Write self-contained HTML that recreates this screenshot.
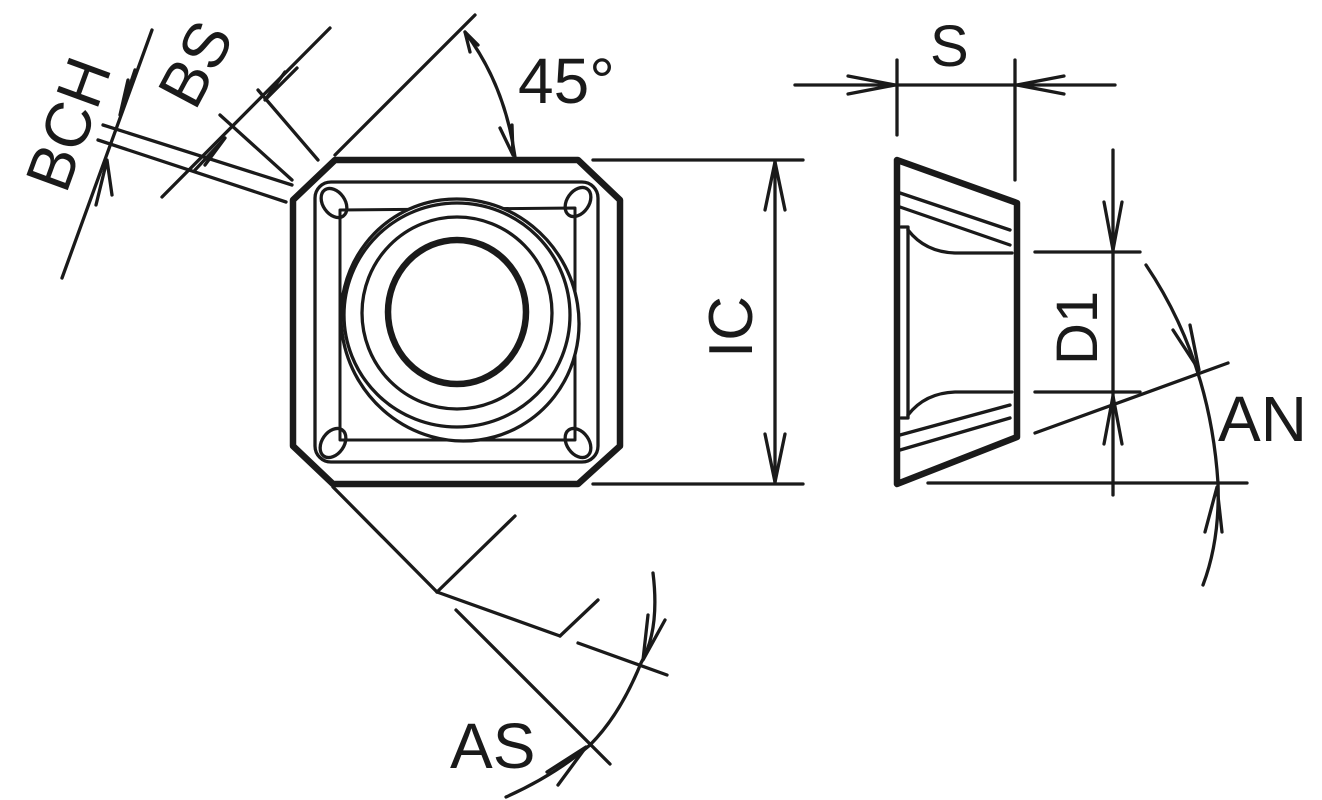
<!DOCTYPE html>
<html><head><meta charset="utf-8"><style>
html,body{margin:0;padding:0;background:#fff;}
svg{display:block;}
text{font-family:"Liberation Sans",sans-serif;fill:#1a1a1a;}
</style></head><body>
<svg width="1322" height="800" viewBox="0 0 1322 800" xmlns="http://www.w3.org/2000/svg">
<g fill="none" stroke="#1a1a1a" stroke-width="3.3" stroke-linecap="round" stroke-linejoin="round">
<!-- main square -->
<path d="M335,160 L578,160 L620,200 L620,446 L578,484 L333,484 L293,446 L293,200 Z" stroke-width="6.5"/>
<rect x="315" y="182" width="283" height="280" rx="16"/>
<path d="M340,210 L575,208 L575,440 L340,440 Z" stroke-width="3"/>
<ellipse cx="334" cy="203" rx="11" ry="16" transform="rotate(-35 334 203)"/>
<ellipse cx="578" cy="202" rx="11" ry="16" transform="rotate(35 578 202)"/>
<ellipse cx="333" cy="443" rx="11" ry="16" transform="rotate(35 333 443)"/>
<ellipse cx="578" cy="443" rx="11" ry="16" transform="rotate(-35 578 443)"/>
<ellipse cx="460" cy="320" rx="118" ry="122" transform="rotate(-30 460 320)" fill="#fff"/>
<ellipse cx="457" cy="315" rx="113" ry="112" fill="#fff"/>
<ellipse cx="457" cy="313" rx="95" ry="96"/>
<ellipse cx="457" cy="312" rx="69" ry="72" stroke-width="6.5"/>
<!-- 45 -->
<line x1="335" y1="155" x2="475" y2="15"/>
<path d="M465,32 Q505,85 515,157"/>
<path d="M478,45 L465,32 L470,52 M500,128 L513,155 L512,125"/>
<!-- BCH/BS -->
<line x1="103" y1="125" x2="292" y2="185"/>
<line x1="98" y1="140" x2="286" y2="202"/>
<line x1="152" y1="30" x2="62" y2="278"/>
<path d="M135,70 L120,115 L128,80 M96,205 L107,160 L112,195"/>
<line x1="220" y1="115" x2="292" y2="180"/>
<line x1="258" y1="90" x2="318" y2="160"/>
<line x1="330" y1="28" x2="162" y2="197"/>
<path d="M297,68 L265,100 L285,72 M195,170 L225,138 L205,165"/>
<!-- IC -->
<line x1="593" y1="160" x2="803" y2="160"/>
<line x1="593" y1="484" x2="803" y2="484"/>
<line x1="775" y1="162" x2="775" y2="482"/>
<path d="M765,210 L775,162 L785,210 M765,434 L775,482 L785,434"/>
<!-- S -->
<line x1="795" y1="85" x2="1115" y2="85"/>
<line x1="897" y1="60" x2="897" y2="135"/>
<line x1="1015" y1="60" x2="1015" y2="180"/>
<path d="M848,76 L895,85 L848,94 M1064,76 L1017,85 L1064,94"/>
<!-- side view -->
<path d="M897,160 L1017,203 L1017,437 L897,484 Z" stroke-width="6.5"/>
<line x1="900" y1="193" x2="1010" y2="230"/>
<line x1="900" y1="207" x2="1010" y2="245"/>
<line x1="900" y1="435" x2="1010" y2="405"/>
<line x1="900" y1="450" x2="1010" y2="418"/>
<path d="M901,227 L908,227 L908,418 L901,418"/>
<path d="M908,230 Q925,252 955,253 L1012,253"/>
<path d="M908,415 Q925,393 955,392 L1012,392"/>
<!-- D1 / AN -->
<line x1="1113" y1="150" x2="1113" y2="495"/>
<line x1="1035" y1="252" x2="1140" y2="252"/>
<line x1="1035" y1="392" x2="1140" y2="392"/>
<line x1="928" y1="483" x2="1247" y2="483"/>
<line x1="1035" y1="433" x2="1228" y2="363"/>
<path d="M1104,202 L1113,250 L1122,202 M1104,444 L1113,396 L1122,444"/>
<path d="M1146,265 Q1210,360 1218,483 Q1220,540 1203,585"/>
<path d="M1173,330 L1199,370 L1190,325 M1205,532 L1217,487 L1222,532"/>
<!-- AS -->
<line x1="333" y1="487" x2="437" y2="592"/>
<line x1="437" y1="592" x2="515" y2="516"/>
<line x1="437" y1="592" x2="560" y2="636"/>
<line x1="560" y1="636" x2="598" y2="600"/>
<line x1="456" y1="610" x2="610" y2="764"/>
<line x1="578" y1="643" x2="667" y2="675"/>
<path d="M653,573 Q660,630 641,663 Q620,715 590,745 Q555,775 506,797"/>
<path d="M648,615 L643,660 L665,620 M547,772 L586,747 L558,785"/>
</g>
<text x="450" y="768" font-size="64">AS</text>
<text x="518" y="103" font-size="64">45°</text>
<text x="930" y="66" font-size="58">S</text>
<text x="1218" y="441" font-size="64">AN</text>
<text transform="translate(752,358) rotate(-90)" font-size="62">IC</text>
<text transform="translate(1097,365) rotate(-90)" font-size="58">D1</text>
<text transform="translate(66,195) rotate(-70)" font-size="64">BCH</text>
<text transform="translate(195,112) rotate(-62)" font-size="64">BS</text>
</svg>
</body></html>
